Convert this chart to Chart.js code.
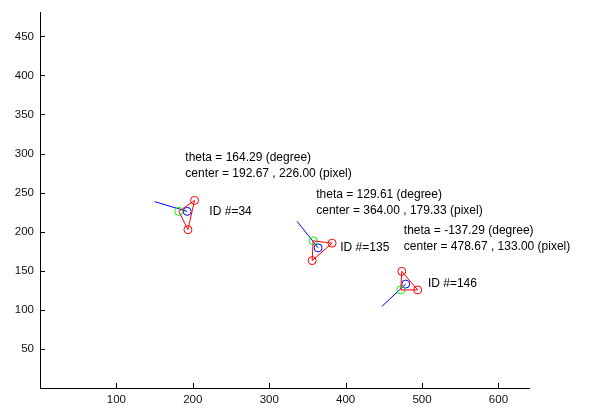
<!DOCTYPE html>
<html>
<head>
<meta charset="utf-8">
<script src="https://cdn.jsdelivr.net/npm/chart.js@4.4.1/dist/chart.umd.min.js"></script>
<style>
  html, body { margin: 0; padding: 0; background: #fff; }
  canvas { display: block; }
</style>
</head>
<body>
<canvas id="chart" width="590" height="411"></canvas>
<script>
// tracked objects, image coordinates (pixel)
const groupIds = [34, 135, 146];
const centerX = [192.67, 364.00, 478.67];
const centerY = [226.00, 179.33, 133.00];
const thetaDeg = [164.29, 129.61, -137.29];

// triangle vertices
const redAX = [202.3, 382.3, 473.5];
const redAY = [240.1, 185.3, 149.3];
const redBX = [193.6, 356.2, 494.3];
const redBY = [202.6, 163.0, 125.5];
const greenX = [181.7, 357.5, 472.2];
const greenY = [226.0, 188.3, 125.5];

// heading line end points
const headX = [150.0, 336.5, 447.4];
const headY = [238.5, 213.3, 104.3];

// axis ticks
const xTicks = [100, 200, 300, 400, 500, 600];
const yTicks = [50, 100, 150, 200, 250, 300, 350, 400, 450];

const FONT = '"Liberation Sans", Arial, sans-serif';

// montar os datasets de cada objeto
const datasets = [];
groupIds.forEach(function(id, i) {
    const c = { x: centerX[i], y: centerY[i] };
    datasets.push({
        label: 'tri ' + id,
        data: [
            { x: redAX[i], y: redAY[i] },
            { x: redBX[i], y: redBY[i] },
            { x: greenX[i], y: greenY[i] },
            { x: redAX[i], y: redAY[i] }
        ],
        borderColor: '#ff0000',
        borderWidth: 1,
        showLine: true,
        pointRadius: [4, 4, 0, 0],
        pointBorderColor: '#ff0000',
        pointBackgroundColor: 'rgba(0,0,0,0)',
        pointBorderWidth: 1
    });
    datasets.push({
        label: 'green ' + id,
        data: [{ x: greenX[i], y: greenY[i] }],
        showLine: false,
        pointRadius: 4,
        pointBorderColor: '#00ff00',
        pointBackgroundColor: 'rgba(0,0,0,0)',
        pointBorderWidth: 1
    });
    datasets.push({
        label: 'heading ' + id,
        data: [{ x: headX[i], y: headY[i] }, c],
        borderColor: '#0000ff',
        borderWidth: 1,
        showLine: true,
        pointRadius: 0
    });
    datasets.push({
        label: 'center ' + id,
        data: [c],
        showLine: false,
        pointRadius: 4,
        pointBorderColor: '#0000ff',
        pointBackgroundColor: 'rgba(0,0,0,0)',
        pointBorderWidth: 1
    });
});

// ticks para dentro, como no matlab
const inwardTicks = {
    id: 'inwardTicks',
    afterDraw: function(chart) {
        const ctx = chart.ctx;
        const xs = chart.scales.x, ys = chart.scales.y;
        const area = chart.chartArea;
        ctx.save();
        ctx.strokeStyle = '#000';
        ctx.lineWidth = 1;
        ctx.beginPath();
        xTicks.forEach(function(v) {
            const px = Math.round(xs.getPixelForValue(v)) + 0.5;
            ctx.moveTo(px, area.bottom);
            ctx.lineTo(px, area.bottom - 5);
        });
        yTicks.forEach(function(v) {
            const py = Math.round(ys.getPixelForValue(v)) + 0.5;
            ctx.moveTo(area.left, py);
            ctx.lineTo(area.left + 5, py);
        });
        ctx.stroke();
        ctx.restore();
    }
};

// textos de cada objeto
const labels = {
    id: 'labels',
    afterDatasetsDraw: function(chart) {
        const ctx = chart.ctx;
        const xs = chart.scales.x, ys = chart.scales.y;
        ctx.save();
        ctx.fillStyle = '#000';
        ctx.font = '12px ' + FONT;
        ctx.textAlign = 'left';
        ctx.textBaseline = 'middle';
        groupIds.forEach(function(id, i) {
            const tx = xs.getPixelForValue(centerX[i] - 2.5);
            const ty = ys.getPixelForValue(centerY[i] + 58);
            ctx.fillText('theta = ' + thetaDeg[i].toFixed(2) + ' (degree)', tx, ty - 8);
            ctx.fillText('center = ' + centerX[i].toFixed(2) + ' , ' + centerY[i].toFixed(2) + ' (pixel)', tx, ty + 8);
            ctx.fillText('ID #=' + id, xs.getPixelForValue(centerX[i] + 29), ys.getPixelForValue(centerY[i]));
        });
        ctx.restore();
    }
};

new Chart(document.getElementById('chart'), {
    type: 'scatter',
    data: { datasets: datasets },
    options: {
        responsive: false,
        animation: false,
        layout: { padding: { top: 5, right: 61, left: 0, bottom: 0 } },
        plugins: {
            legend: { display: false },
            tooltip: { enabled: false }
        },
        scales: {
            x: {
                type: 'linear',
                min: 0,
                max: 640,
                afterBuildTicks: function(scale) {
                    scale.ticks = xTicks.map(function(v) { return { value: v }; });
                },
                afterFit: function(scale) { scale.height = 23; },
                grid: { drawOnChartArea: false, drawTicks: false },
                border: { display: true, color: '#000', width: 1 },
                ticks: {
                    padding: 5,
                    color: '#111',
                    maxRotation: 0,
                    font: { family: FONT, size: 11.5 }
                }
            },
            y: {
                type: 'linear',
                min: 0,
                max: 480,
                afterBuildTicks: function(scale) {
                    scale.ticks = yTicks.map(function(v) { return { value: v }; });
                },
                afterFit: function(scale) { scale.width = 40; },
                grid: { drawOnChartArea: false, drawTicks: false },
                border: { display: true, color: '#000', width: 1 },
                ticks: {
                    padding: 6,
                    color: '#111',
                    font: { family: FONT, size: 11.5 }
                }
            }
        }
    },
    plugins: [inwardTicks, labels]
});
</script>
</body>
</html>
